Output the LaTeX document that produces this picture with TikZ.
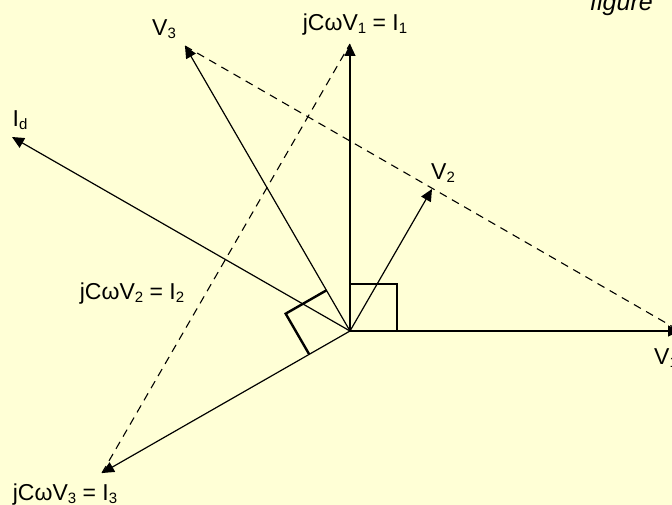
\documentclass[tikz,border=0pt]{standalone}
\usepackage{fontspec}
\setmainfont{Liberation Sans}
\usetikzlibrary{arrows.meta,calc}
\definecolor{paper}{RGB}{255,255,214}
\newcommand{\phsub}[1]{\raisebox{-3pt}{\fontsize{15}{18}\selectfont #1}}

\begin{document}
\begin{tikzpicture}[x=1pt, y=-1pt, >={Triangle[length=12pt,width=11pt]},
    vec/.style={->, line width=1.2pt},
    guide/.style={dash pattern=on 8pt off 6pt, line width=1.1pt},
    rightangle/.style={line width=2.4pt},
    lbl/.style={font=\fontsize{23}{27}\selectfont, inner sep=0pt, anchor=base}]
    % Page
    \fill[paper] (0,0) rectangle (672,505);
    \clip (0,0) rectangle (672,505);
    % Origin and phasor tips
    \coordinate (O) at (350,331);
    \coordinate (v1) at (680,331);
    \coordinate (v2) at (432,189);
    \coordinate (v3) at (185,46);
    \coordinate (i1) at (350,44);
    \coordinate (i3) at (102,473);
    \coordinate (id) at (12,137);
    % Labels
    \node[lbl] (i1lbl) at (355,31) {jCωV\phsub{1} = I\phsub{1}};
    \node[lbl] (v3lbl) at (164,36) {V\phsub{3}};
    \node[lbl] (idlbl) at (20,127) {I\phsub{d}};
    \node[lbl] (v2lbl) at (443,180) {V\phsub{2}};
    \node[lbl] (i2lbl) at (132,299) {jCωV\phsub{2} = I\phsub{2}};
    \node[lbl] (i3lbl) at (65,500) {jCωV\phsub{3} = I\phsub{3}};
    \node[lbl, anchor=base west] (v1lbl) at (654,364) {V\phsub{1}};
    \node[font=\fontsize{25}{29}\selectfont\itshape, inner sep=0pt, anchor=base west] (cap) at (590,11) {figure};
    % Dashed construction lines
    \draw[guide] (v3) -- (v1);
    \draw[guide] (i3) -- (i1);
    % Phasors
    \draw[vec] (O) -- (v1);
    \draw[vec] (O) -- (v2);
    \draw[vec] (O) -- (v3);
    \draw[vec] (O) -- (i1);
    \draw[vec] (O) -- (i3);
    \draw[vec] (O) -- (id);
    % Right angles
    \draw[rightangle] ($(O)+(0,-47)$) -- ($(O)+(47,-47)$) -- ($(O)+(47,0)$);
    \draw[rightangle] ($(O)!47pt!(v3)$) -- ($(O)!47pt!(v3)+(O)!47pt!(i3)-(O)$) -- ($(O)!47pt!(i3)$);
\end{tikzpicture}
\end{document}
